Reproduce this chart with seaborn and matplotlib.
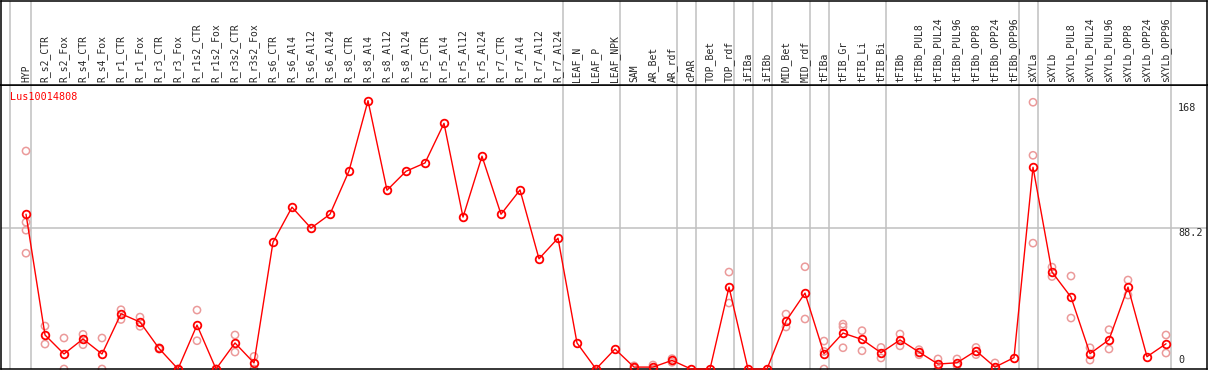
import numpy as np
import pandas as pd
import matplotlib
matplotlib.use("Agg")
import matplotlib.pyplot as plt
import matplotlib.transforms as mtransforms
import seaborn as sns

# Данные: категории, средние и повторности
categories = [
    "HYP", "R_s2_CTR", "R_s2_Fox", "R_s4_CTR", "R_s4_Fox", "R_r1_CTR", "R_r1_Fox",
    "R_r3_CTR", "R_r3_Fox", "R_r1s2_CTR", "R_r1s2_Fox", "R_r3s2_CTR", "R_r3s2_Fox",
    "R_s6_CTR", "R_s6_Al4", "R_s6_Al12", "R_s6_Al24", "R_s8_CTR", "R_s8_Al4",
    "R_s8_Al12", "R_s8_Al24", "R_r5_CTR", "R_r5_Al4", "R_r5_Al12", "R_r5_Al24",
    "R_r7_CTR", "R_r7_Al4", "R_r7_Al12", "R_r7_Al24", "LEAF_N", "LEAF_P", "LEAF_NPK",
    "SAM", "AR_Bet", "AR_rdf", "cPAR", "TOP_Bet", "TOP_rdf", "iFIBa", "iFIBb",
    "MID_Bet", "MID_rdf", "tFIBa", "tFIB_Gr", "tFIB_Li", "tFIB_Bi", "tFIBb",
    "tFIBb_PUL8", "tFIBb_PUL24", "tFIBb_PUL96", "tFIBb_OPP8", "tFIBb_OPP24",
    "tFIBb_OPP96", "sXYLa", "sXYLb", "sXYLb_PUL8", "sXYLb_PUL24", "sXYLb_PUL96",
    "sXYLb_OPP8", "sXYLb_OPP24", "sXYLb_OPP96",
]

means = [
    96.9, 21.3, 9.4, 18.8, 9.4, 34.6, 29.4, 12.9, 0, 27.5, 0, 16.3, 3.8,
    79.4, 101.3, 88.2, 96.9, 124.0, 168.0, 111.9, 123.8, 129.0, 153.8, 95.1, 133.2,
    96.9, 112.1, 69.0, 81.9, 16.3, 0, 12.5, 1.2, 1.2, 5.4, 0, 0, 51.3, 0, 0,
    30.0, 47.5, 9.6, 22.5, 18.5, 10.2, 18.2, 10.6, 3.1, 3.9, 11.4, 1.2, 7.1,
    126.3, 60.7, 45.0, 9.6, 18.3, 51.3, 7.7, 15.8,
]

replicates = [
    [136.5, 91.9, 86.9, 72.5], [26.9, 15.6], [19.4, 0], [21.7, 15.2], [19.4, 0],
    [37.1, 31.0], [32.5, 26.7], [12.5, 13.3], [0, 0], [36.9, 17.7], [0, 0],
    [21.3, 10.6], [7.9, 0],
    [], [], [], [], [], [], [], [], [], [], [], [], [], [], [], [],
    [], [], [], [2.0, 0.5], [2.5, 0], [6.5, 4.2], [], [], [60.7, 41.3], [], [],
    [34.4, 26.3], [64.0, 31.3], [17.5, 11.0, 0], [28.1, 26.4, 13.3], [24.0, 11.4],
    [13.5, 6.9], [21.9, 14.5], [12.1, 8.9], [6.3, 0], [6.3, 2.1], [13.5, 9.0],
    [3.8, 0], [],
    [167.0, 133.8, 78.8], [63.8, 57.9], [58.2, 31.9], [13.3, 5.6], [24.6, 12.5],
    [55.7, 46.3], [], [21.3, 10.0],
]

# последние категории каждой группы (разделители)
group_ends = ["HYP", "R_r7_Al24", "LEAF_NPK", "AR_rdf", "cPAR", "TOP_rdf", "iFIBa",
              "iFIBb", "MID_rdf", "tFIBa", "tFIB_Bi", "tFIBb_OPP96", "sXYLa", "sXYLb_OPP96"]

y_ticks = [168, 88.2, 0]
gene = "Lus10014808"

sns.set_style("white")
plt.rcParams['font.family'] = ['DejaVu Sans Mono']

pos = np.arange(len(categories))
df_mean = pd.DataFrame({"x": pos, "y": means})
df_rep = pd.DataFrame(
    [(i, v) for i, vals in enumerate(replicates) for v in vals], columns=["x", "y"]
)

W, H = 1209, 370
fig = plt.figure(figsize=(W / 100, H / 100), dpi=100)
ax = fig.add_axes([1 / W, 1 / H, 1206 / W, 284 / H])
ax_lab = fig.add_axes([1 / W, 285 / H, 1206 / W, 84 / H])

xlim = ((1 - 26) / 19, (1207 - 26) / 19)
for a in (ax, ax_lab):
    a.set_xlim(*xlim)
    a.set_xticks([])
    a.set_yticks([])
    for s in a.spines.values():
        s.set_color("black")
        s.set_linewidth(1.1)
ax.set_ylim(0, 177.8)
ax_lab.set_ylim(0, 1)

# разделители групп
seps = [-0.84] + [categories.index(c) + 0.24 for c in group_ends]
for a in (ax, ax_lab):
    for s in seps:
        a.axvline(s, color="#c0c0c0", lw=1.1, zorder=0)
ax.axhline(88.2, color="#c0c0c0", lw=1.1, zorder=0)

# повторности
sns.scatterplot(data=df_rep, x="x", y="y", ax=ax, marker="o", s=27,
                facecolors="none", edgecolor="#eb9a9a", linewidth=1.1,
                zorder=2, clip_on=False, legend=False)
# средние
sns.lineplot(data=df_mean, x="x", y="y", ax=ax, color="red", lw=1,
             marker="o", markersize=5.5, markerfacecolor="none",
             markeredgecolor="red", markeredgewidth=1.3, zorder=3,
             clip_on=False, legend=False)
ax.set_xlabel("")
ax.set_ylabel("")
ax.set_xlim(*xlim)
ax.set_ylim(0, 177.8)

# подписи категорий
tr = mtransforms.blended_transform_factory(ax_lab.transData, ax_lab.transAxes)
for i, c in enumerate(categories):
    ax_lab.text(i, 0.03, c, rotation=90, ha="center", va="bottom",
                fontsize=7, transform=tr)

ax.text(9 / 1206, 1 - 12 / 284, gene, color="red", fontsize=7.3,
        transform=ax.transAxes, va="center", ha="left")

xr = (1178 - 26) / 19
ax.text(xr, y_ticks[0] - 1.5, "168", fontsize=7.3, va="top", ha="left")
ax.text(xr, y_ticks[1], "88.2", fontsize=7.3, va="top", ha="left")
ax.text(xr, y_ticks[2] + 2.5, "0", fontsize=7.3, va="bottom", ha="left")

fig.savefig("out.png", dpi=100)
